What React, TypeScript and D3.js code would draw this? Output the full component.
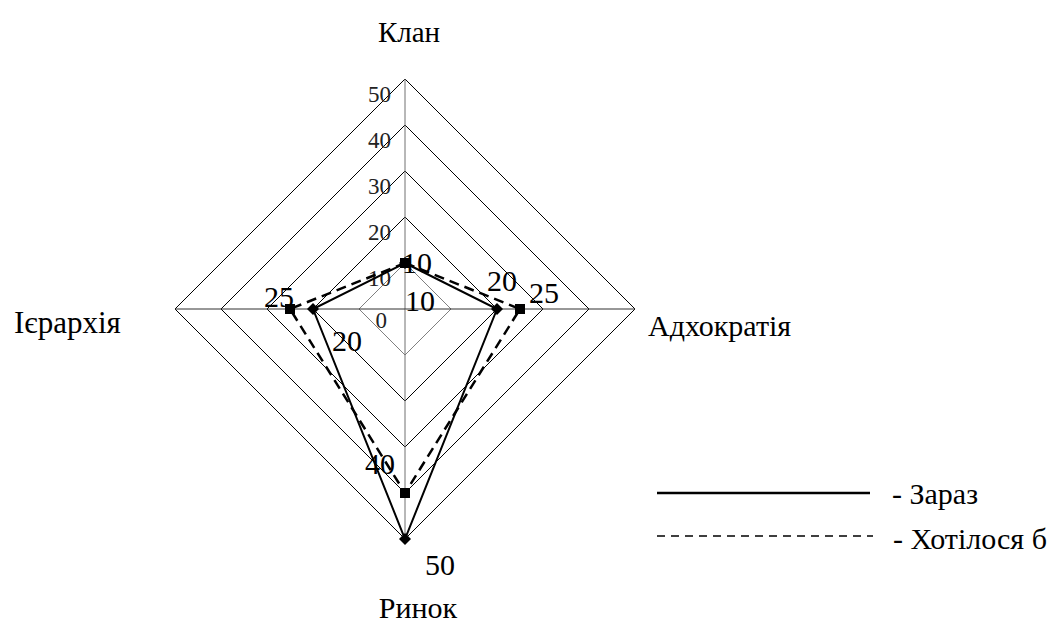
import React from "react";
import * as d3 from "d3";

const categories = ["Клан", "Адхократія", "Ринок", "Ієрархія"];
const seriesNames = ["Зараз", "Хотілося б"];
const nowValues = [10, 20, 50, 20];
const wishValues = [10, 25, 40, 25];
const ticks = [0, 10, 20, 30, 40, 50];

const W = 1061;
const H = 624;
const cx = 405;
const cy = 309;
const R = 230;
const FONT = '"Liberation Serif", "Times New Roman", serif';

// label offsets relative to each marker, per series (layout only)
const nowLabelOffsets = [
  [15, 37],
  [5, -29],
  [35, 25],
  [34, 31],
];
const wishLabelOffsets = [
  [12, -1],
  [24, -17],
  [-25, -30],
  [-11, -13],
];

export default function App() {
  const r = d3.scaleLinear().domain([0, 50]).range([0, R]);
  const angle = d3
    .scalePoint<string>()
    .domain(categories)
    .range([0, (2 * Math.PI * (categories.length - 1)) / categories.length]);

  const pt = (cat: string, v: number): [number, number] => {
    const a = angle(cat)!;
    return [cx + r(v) * Math.sin(a), cy - r(v) * Math.cos(a)];
  };

  const radial = d3
    .lineRadial<number>()
    .angle((_, i) => angle(categories[i])!)
    .radius((d) => r(d))
    .curve(d3.curveLinearClosed);

  const rings = ticks.filter((t) => t > 0);

  const nowPts = categories.map((c, i) => pt(c, nowValues[i]));
  const wishPts = categories.map((c, i) => pt(c, wishValues[i]));

  const diamond = d3.symbol(d3.symbolSquare, 72)()!;
  const square = d3.symbol(d3.symbolSquare, 100)()!;

  return (
    <svg
      width={W}
      height={H}
      style={{ position: "absolute", left: 0, top: 0, background: "#fff", fontFamily: FONT }}
    >
      {/* grid rings */}
      <g transform={`translate(${cx},${cy})`}>
        {rings.map((t) => (
          <path
            key={t}
            d={radial(categories.map(() => t))!}
            fill="none"
            stroke={t === 10 ? "#808080" : "#000"}
            strokeWidth={1}
          />
        ))}
      </g>
      {/* spokes */}
      {categories.map((c) => {
        const [x, y] = pt(c, 50);
        const vertical = Math.abs(x - cx) < 1;
        return (
          <line
            key={c}
            x1={cx}
            y1={cy}
            x2={x}
            y2={y}
            stroke={vertical ? "#707070" : "#303030"}
            strokeWidth={1}
          />
        );
      })}
      {/* value axis tick labels */}
      {ticks.map((t) => (
        <text
          key={t}
          x={t === 0 ? 387 : 391}
          y={cy - r(t) + (t === 0 ? 11 : 15)}
          textAnchor="end"
          dominantBaseline="central"
          fontSize={23}
          fill="#222"
        >
          {t}
        </text>
      ))}
      {/* series */}
      <g transform={`translate(${cx},${cy})`}>
        <path
          d={radial(wishValues)!}
          fill="none"
          stroke="#000"
          strokeWidth={2.5}
          strokeDasharray="10,6"
        />
        <path d={radial(nowValues)!} fill="none" stroke="#000" strokeWidth={2} />
      </g>
      {wishPts.map(([x, y], i) => (
        <path key={"w" + i} d={square} transform={`translate(${x},${y})`} fill="#000" />
      ))}
      {nowPts.map(([x, y], i) => (
        <path
          key={"n" + i}
          d={diamond}
          transform={`translate(${x},${y}) rotate(45)`}
          fill="#000"
        />
      ))}
      {/* data labels */}
      {nowPts.map(([x, y], i) => (
        <text
          key={"nl" + i}
          x={x + nowLabelOffsets[i][0]}
          y={y + nowLabelOffsets[i][1]}
          textAnchor="middle"
          dominantBaseline="central"
          fontSize={30}
          fill="#000"
        >
          {nowValues[i]}
        </text>
      ))}
      {wishPts.map(([x, y], i) => (
        <text
          key={"wl" + i}
          x={x + wishLabelOffsets[i][0]}
          y={y + wishLabelOffsets[i][1]}
          textAnchor="middle"
          dominantBaseline="central"
          fontSize={30}
          fill="#000"
        >
          {wishValues[i]}
        </text>
      ))}
      {/* category labels */}
      <text x={409} y={32} textAnchor="middle" dominantBaseline="central" fontSize={29}>
        {categories[0]}
      </text>
      <text x={648} y={325} textAnchor="start" dominantBaseline="central" fontSize={30}>
        {categories[1]}
      </text>
      <text x={418} y={607} textAnchor="middle" dominantBaseline="central" fontSize={30}>
        {categories[2]}
      </text>
      <text x={14} y={322} textAnchor="start" dominantBaseline="central" fontSize={31}>
        {categories[3]}
      </text>
      {/* legend */}
      <line x1={657} x2={870} y1={493} y2={493} stroke="#000" strokeWidth={2.5} />
      <text x={892} y={493} dominantBaseline="central" fontSize={30}>
        {"- " + seriesNames[0]}
      </text>
      <line
        x1={657}
        x2={873}
        y1={536}
        y2={536}
        stroke="#000"
        strokeWidth={1.3}
        strokeDasharray="8,6"
      />
      <text x={893} y={538} dominantBaseline="central" fontSize={30}>
        {"- " + seriesNames[1]}
      </text>
    </svg>
  );
}
